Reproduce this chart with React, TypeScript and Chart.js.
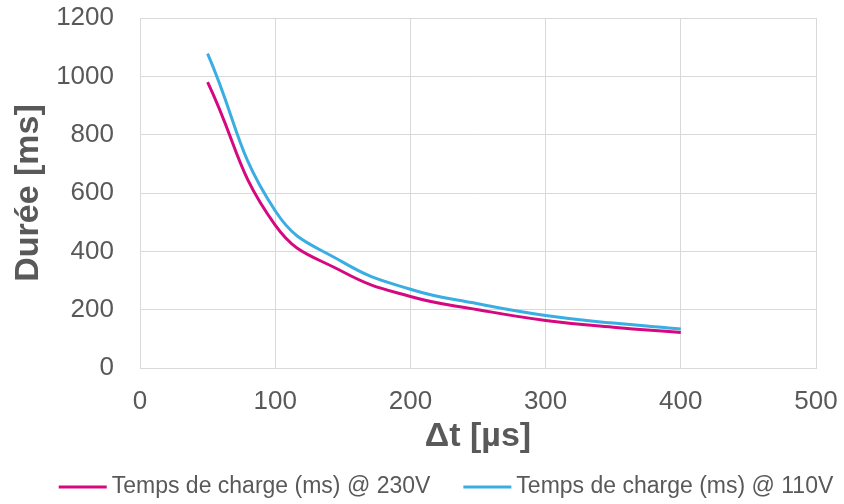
import React, { useEffect, useRef } from "react";
import { Chart, registerables } from "chart.js";

Chart.register(...registerables);

const deltaT = [50, 100, 150, 200, 250, 300, 350, 400];
const charge230 = [980, 490, 330, 245, 200, 163, 140, 122];
const charge110 = [1078, 539, 363, 270, 220, 180, 154, 134];
const xTicks = [0, 100, 200, 300, 400, 500];
const yTicks = [0, 200, 400, 600, 800, 1000, 1200];
const label230 = "Temps de charge (ms) @ 230V";
const label110 = "Temps de charge (ms) @ 110V";

const FONT = "'Liberation Sans', Arial, sans-serif";
const GRID = "#d9d9d9";
const TEXT = "#595959";

const bottomLegend = {
  id: "bottomLegend",
  afterDraw(chart: any) {
    const ctx = chart.ctx;
    const sets = chart.data.datasets;
    const lineW = 48;
    const gapText = 5;
    const gapItem = 33;
    ctx.save();
    ctx.font = `23px ${FONT}`;
    ctx.textBaseline = "middle";
    ctx.textAlign = "left";
    const widths = sets.map((d: any) => lineW + gapText + ctx.measureText(d.label).width);
    const total = widths.reduce((a: number, b: number) => a + b, 0) + gapItem * (sets.length - 1);
    let x = (chart.width + 48) / 2 - total / 2;
    const y = chart.height - 17;
    sets.forEach((d: any, i: number) => {
      ctx.strokeStyle = d.borderColor;
      ctx.lineWidth = 3;
      ctx.beginPath();
      ctx.moveTo(x, y);
      ctx.lineTo(x + lineW, y);
      ctx.stroke();
      ctx.fillStyle = TEXT;
      ctx.fillText(d.label, x + lineW + gapText, y);
      x += widths[i] + gapItem;
    });
    ctx.restore();
  },
};

export default function App() {
  const ref = useRef<HTMLCanvasElement | null>(null);
  useEffect(() => {
    if (!ref.current) return;
    const chart = new Chart(ref.current, {
      type: "line",
      data: {
        datasets: [
          {
            label: label230,
            data: deltaT.map((x, i) => ({ x, y: charge230[i] })),
            borderColor: "#d6087f",
            backgroundColor: "#d6087f",
            borderWidth: 3,
            pointRadius: 0,
            tension: 0.45,
          },
          {
            label: label110,
            data: deltaT.map((x, i) => ({ x, y: charge110[i] })),
            borderColor: "#3aade2",
            backgroundColor: "#3aade2",
            borderWidth: 3,
            pointRadius: 0,
            tension: 0.45,
          },
        ],
      },
      plugins: [bottomLegend],
      options: {
        animation: false,
        responsive: true,
        maintainAspectRatio: false,
        layout: { padding: { left: 0, right: 28, top: 18, bottom: 46 } },
        plugins: {
          tooltip: { enabled: false },
          legend: { display: false },
        },
        scales: {
          x: {
            type: "linear",
            min: 0,
            max: 500,
            afterBuildTicks: (s: any) => {
              s.ticks = xTicks.map((v) => ({ value: v }));
            },
            afterFit: (s: any) => {
              s.height = 90;
              s.paddingLeft = 0;
              s.paddingRight = 0;
            },
            grid: { color: GRID, lineWidth: 1, drawTicks: false, tickLength: 0 },
            border: { color: GRID, width: 1 },
            ticks: { color: TEXT, padding: 18, font: { family: FONT, size: 26 }, callback: (v: any) => String(v) },
            title: {
              display: true,
              text: "Δt [µs]",
              color: TEXT,
              padding: { top: 0, bottom: 1 },
              font: { family: FONT, size: 34, weight: "bold" },
            },
          },
          y: {
            type: "linear",
            min: 0,
            max: 1200,
            afterBuildTicks: (s: any) => {
              s.ticks = yTicks.map((v) => ({ value: v }));
            },
            afterFit: (s: any) => {
              s.width = 140;
              s.paddingTop = 0;
              s.paddingBottom = 0;
            },
            grid: { color: GRID, lineWidth: 1, drawTicks: false, tickLength: 0 },
            border: { color: GRID, width: 1 },
            ticks: { color: TEXT, padding: 26, font: { family: FONT, size: 26 }, callback: (v: any) => String(v) },
            title: {
              display: true,
              text: "Durée [ms]",
              color: TEXT,
              padding: { top: 8, bottom: 0 },
              font: { family: FONT, size: 34, weight: "bold" },
            },
          },
        },
      },
    });
    return () => chart.destroy();
  }, []);
  return (
    <div style={{ position: "fixed", left: 0, top: 0, width: 844, height: 504, background: "#fff" }}>
      <canvas ref={ref} />
    </div>
  );
}
